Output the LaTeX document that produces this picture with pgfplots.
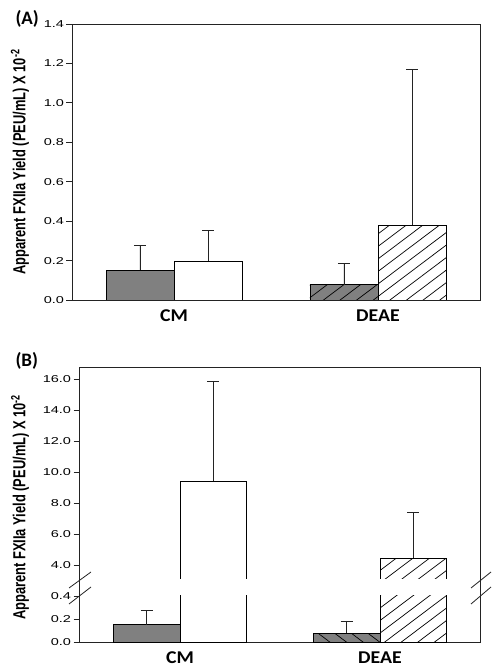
\documentclass[border=0pt]{standalone}
\usepackage{fontspec}
\setmainfont{Liberation Sans}
\newfontfamily\carlito{Carlito}
\usepackage{pgfplots}
\pgfplotsset{compat=1.18}
\usetikzlibrary{patterns.meta}

\definecolor{barGray}{RGB}{128,128,128}
\definecolor{lineC}{RGB}{35,35,35}

\pgfplotsset{
  myaxis/.style={
    scale only axis, anchor=south west,
    xmin=-0.5, xmax=1.5,
    axis line style={lineC, line width=0.8pt},
    tick align=outside, ytick pos=left,
    major tick length=5.5pt,
    every tick/.style={lineC, line width=0.8pt},
    yticklabel style={font=\fontsize{10}{11}\selectfont, xscale=1.45, inner xsep=1.5pt,
      /pgf/number format/fixed, /pgf/number format/fixed zerofill,
      /pgf/number format/precision=1, /pgf/number format/assume math mode=true},
    xtick={0,1}, xticklabels={CM,DEAE},
    major x tick style={draw=none},
    xticklabel style={font=\carlito\bfseries\fontsize{18}{18}\selectfont, xscale=1.1, yshift=-1pt},
    every axis y label/.style={rotate=90, yscale=1.35, anchor=center,
      font=\bfseries\fontsize{12.9}{14}\selectfont},
    error bars/error bar style={lineC, line width=0.8pt},
    error bars/error mark options={rotate=90, mark size=6pt, line width=0.8pt, lineC},
  },
  barbase/.style={ybar, bar width=1/3, bar shift=0pt, draw=black, line width=0.7pt},
  hatchF/.style={postaction={pattern={Lines[angle=37,distance=10pt,line width=0.7pt]}, pattern color=black}},
  hatchB/.style={postaction={pattern={Lines[angle=143,distance=10pt,line width=0.7pt]}, pattern color=black}},
}

\begin{document}
\begin{tikzpicture}
\useasboundingbox (0,0) rectangle (497pt,669pt);

% ---------------- Panel A ----------------
\begin{axis}[myaxis,
  at={(72pt,369pt)}, width=408pt, height=276pt,
  ymin=0, ymax=1.4, ytick={0,0.2,...,1.4},
  ylabel={Apparent FXIIa Yield (PEU/mL) X 10\textsuperscript{-2}},
  ylabel style={at={(axis description cs:-0.1275,0.5)}},
]
\addplot[barbase, fill=barGray, error bars/.cd, y dir=plus, y explicit]
  coordinates {(-0.1667,0.15) +- (0,0.125)};
\addplot[barbase, fill=white, error bars/.cd, y dir=plus, y explicit]
  coordinates {(0.1667,0.197) +- (0,0.155)};
\addplot[barbase, fill=barGray, hatchF, error bars/.cd, y dir=plus, y explicit]
  coordinates {(0.8333,0.078) +- (0,0.108)};
\addplot[barbase, fill=white, hatchF, error bars/.cd, y dir=plus, y explicit]
  coordinates {(1.1667,0.38) +- (0,0.79)};
\end{axis}
\node[anchor=base west, font=\carlito\bfseries\fontsize{19}{19}\selectfont] at (12pt,644pt) {(A)};

% ---------------- Panel B ----------------
% frame
\begin{axis}[myaxis,
  at={(79pt,27pt)}, width=401pt, height=275pt,
  xmin=-0.505, ymin=0, ymax=1, ytick=\empty, xtick=\empty,
  ylabel={Apparent FXIIa Yield (PEU/mL) X 10\textsuperscript{-2}},
  ylabel style={at={(axis description cs:-0.147,0.49)}},
]
\end{axis}
% lower part
\begin{axis}[myaxis,
  at={(79pt,27pt)}, width=401pt, height=46pt,
  xmin=-0.505, ymin=0, ymax=0.4, ytick={0,0.2,0.4},
  axis line style={draw=none},
]
\addplot[barbase, fill=barGray, error bars/.cd, y dir=plus, y explicit]
  coordinates {(-0.1667,0.15) +- (0,0.125)};
\addplot[barbase, fill=white]
  coordinates {(0.1667,9.4)};
\addplot[barbase, fill=barGray, hatchB, error bars/.cd, y dir=plus, y explicit]
  coordinates {(0.8333,0.078) +- (0,0.105)};
\addplot[barbase, fill=white, hatchF]
  coordinates {(1.1667,4.45)};
\end{axis}
% upper part
\begin{axis}[myaxis,
  at={(79pt,90pt)}, width=401pt, height=212pt,
  xmin=-0.505, ymin=3.1, ymax=16.77, ytick={4,6,...,16}, xtick=\empty,
  axis line style={draw=none},
]
\addplot[barbase, fill=white, error bars/.cd, y dir=plus, y explicit]
  coordinates {(0.1667,9.4) +- (0,6.43)};
\addplot[barbase, fill=white, hatchF, error bars/.cd, y dir=plus, y explicit]
  coordinates {(1.1667,4.45) +- (0,2.95)};
\end{axis}
% axis break marks
\draw[lineC, line width=0.8pt] (69pt,81pt) -- (91pt,97pt) (69pt,65pt) -- (91pt,82pt);
\draw[lineC, line width=0.8pt] (471pt,81pt) -- (491pt,97pt) (471pt,65pt) -- (491pt,82pt);
\node[anchor=base west, font=\carlito\bfseries\fontsize{19}{19}\selectfont] at (12pt,302pt) {(B)};
\end{tikzpicture}
\end{document}
